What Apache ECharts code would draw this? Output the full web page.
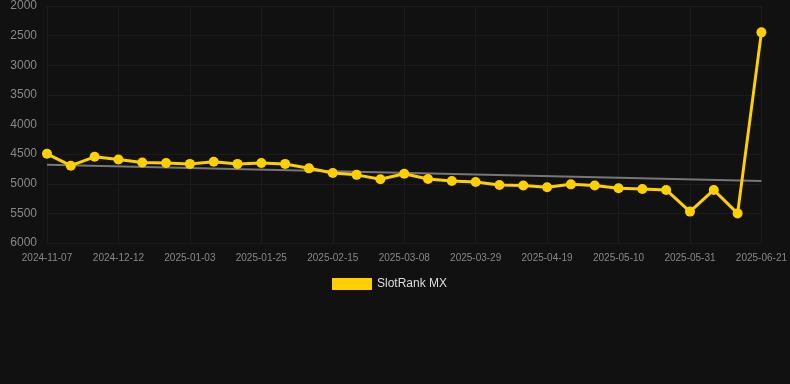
<!DOCTYPE html>
<html>
<head>
<meta charset="utf-8">
<script src="https://cdn.jsdelivr.net/npm/echarts@6/dist/echarts.min.js"></script>
<style>
  html, body { margin: 0; padding: 0; background: #111111; }
  #chart { width: 790px; height: 384px; }
</style>
</head>
<body>
<div id="chart"></div>
<script>
// weekly snapshots; only every third date is labelled on the axis
const dates = [
  '2024-11-07', '2024-11-19', '2024-11-30', '2024-12-12', '2024-12-19', '2024-12-26',
  '2025-01-03', '2025-01-10', '2025-01-17', '2025-01-25', '2025-02-01', '2025-02-08',
  '2025-02-15', '2025-02-22', '2025-03-01', '2025-03-08', '2025-03-15', '2025-03-22',
  '2025-03-29', '2025-04-05', '2025-04-12', '2025-04-19', '2025-04-26', '2025-05-03',
  '2025-05-10', '2025-05-17', '2025-05-24', '2025-05-31', '2025-06-07', '2025-06-14',
  '2025-06-21'
];

const rankMX = [
  4495, 4695, 4545, 4590, 4640, 4650, 4665, 4630, 4665, 4650, 4665,
  4740, 4820, 4850, 4925, 4830, 4920, 4955, 4970, 5020, 5030, 5060,
  5010, 5030, 5075, 5090, 5105, 5470, 5105, 5500, 2445
];

// trend line end values (first and last date)
const trendEnds = [4680, 4955];

const yTicks = { min: 2000, max: 6000, step: 500 };

const trendData = dates.map((d, i) =>
  i === 0 ? trendEnds[0] : (i === dates.length - 1 ? trendEnds[1] : null));

const chart = echarts.init(document.getElementById('chart'));

chart.setOption({
  backgroundColor: '#111111',
  animation: false,
  grid: { left: 47, right: 28, top: 6, bottom: 141 },
  legend: {
    top: 273,
    left: 327,
    itemWidth: 40,
    itemHeight: 12,
    itemGap: 10,
    data: [{ name: 'SlotRank MX', icon: 'rect' }],
    textStyle: { color: '#dddddd', fontSize: 12, fontFamily: 'Liberation Sans, Arial, sans-serif' }
  },
  xAxis: {
    type: 'category',
    boundaryGap: false,
    data: dates,
    axisLine: { show: false },
    axisTick: { show: false },
    axisLabel: {
      interval: 2,
      color: '#888888',
      fontSize: 10,
      margin: 10,
      fontFamily: 'Liberation Sans, Arial, sans-serif'
    },
    splitLine: { show: true, interval: 2, lineStyle: { color: '#1b1b1b', width: 1 } }
  },
  yAxis: {
    type: 'value',
    inverse: true,
    min: yTicks.min,
    max: yTicks.max,
    interval: yTicks.step,
    axisLine: { show: false },
    axisTick: { show: false },
    axisLabel: {
      color: '#888888',
      fontSize: 12,
      margin: 10,
      formatter: v => String(v),
      fontFamily: 'Liberation Sans, Arial, sans-serif'
    },
    splitLine: { lineStyle: { color: '#1b1b1b', width: 1 } }
  },
  series: [
    {
      name: 'trend',
      type: 'line',
      data: trendData,
      connectNulls: true,
      showSymbol: false,
      symbol: 'none',
      silent: true,
      lineStyle: { color: '#777777', width: 2 },
      z: 1
    },
    {
      name: 'SlotRank MX',
      type: 'line',
      data: rankMX,
      symbol: 'circle',
      symbolSize: 10,
      itemStyle: { color: '#ffd000' },
      lineStyle: { color: '#ffd000', width: 3 },
      z: 2
    }
  ]
});
</script>
</body>
</html>
